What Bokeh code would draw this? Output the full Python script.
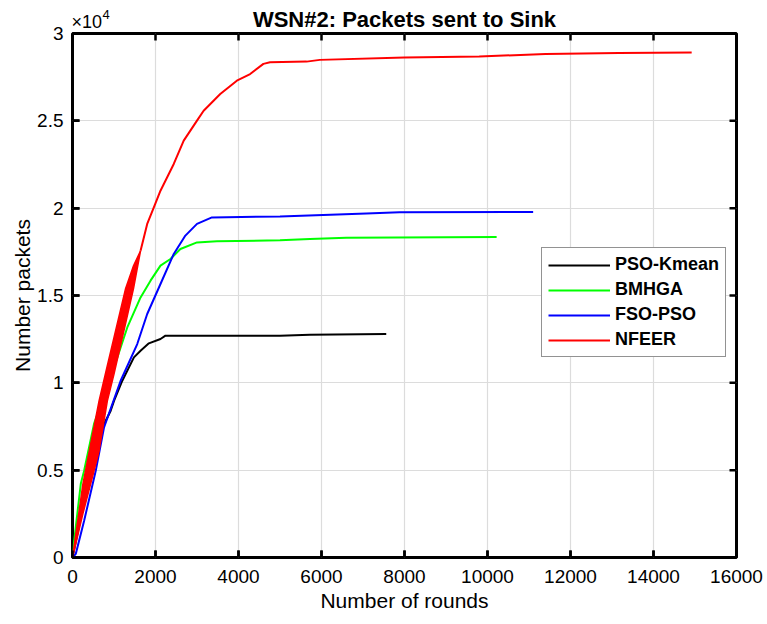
from bokeh.plotting import figure
from bokeh.models import (Range1d, FixedTicker, Legend, LegendItem,
                          Label, CustomJSTickFormatter)
from bokeh.embed import file_html
from bokeh.resources import INLINE

# ---- data ----
title_text = "WSN#2: Packets sent to Sink"
x_label = "Number of rounds"
y_label = "Number packets"
exponent_base = "\u00d710"
exponent_power = "4"
x_ticks = [0, 2000, 4000, 6000, 8000, 10000, 12000, 14000, 16000]
y_ticks = [0, 5000, 10000, 15000, 20000, 25000, 30000]

names = ["PSO-Kmean", "BMHGA", "FSO-PSO", "NFEER"]
colors = ["#000000", "#00ff00", "#0000ff", "#ff0000"]

kmean_rounds = [0, 200, 440, 680, 920, 1000, 1200, 1480, 1640, 1840, 2120, 2240, 5000, 5720, 7560]
kmean_packets = [0, 2290, 4970, 7260, 8400, 8970, 10120, 11455, 11840, 12260, 12510, 12700, 12700, 12755, 12790]

bmhga_rounds = [0, 40, 200, 280, 520, 1000, 1320, 1640, 1880, 2120, 2360, 2600, 3000, 3480, 5000, 5720, 6600, 10220]
bmhga_packets = [0, 956, 4220, 4970, 7660, 10880, 13170, 14890, 15850, 16710, 17090, 17660, 18040, 18100, 18160, 18240, 18310, 18350]

fsopso_rounds = [0, 80, 280, 560, 760, 1160, 1560, 1800, 2120, 2440, 2720, 3000, 3360, 5000, 7080, 7880, 11100]
fsopso_packets = [0, 210, 2100, 4970, 7450, 10120, 12220, 13940, 15660, 17380, 18430, 19100, 19470, 19530, 19700, 19760, 19780]

# NFEER: noisy band at the start (upper / lower envelope), then a single curve
nfeer_band_rounds = [0, 250, 520, 640, 840, 1000, 1280, 1470, 1640]
nfeer_band_upper = [0, 4200, 7500, 8970, 10990, 12600, 15400, 16700, 17560]
nfeer_band_lower = [0, 2500, 4970, 6100, 8970, 10500, 13400, 15400, 17560]

nfeer_rounds = [1640, 1800, 1960, 2120, 2440, 2680, 3000, 3160, 3560, 3960, 4280, 4600, 4760,
                5640, 5960, 8000, 9800, 11400, 13160, 14920]
nfeer_packets = [17560, 19100, 20050, 21000, 22530, 23870, 25010, 25580, 26540, 27300, 27680, 28260, 28350,
                 28390, 28490, 28620, 28680, 28830, 28890, 28910]

FONT = "Liberation Sans"
X0, X1, Y0, Y1 = 0, 16000, 0, 30000
W, H = 767, 624
BL, BR, BT, BB = 72, 30, 33, 67
FRAME_W, FRAME_H = W - BL - BR, H - BT - BB
TICK_PX = 7

p = figure(width=W, height=H, output_backend="svg", toolbar_location=None,
           x_range=Range1d(X0, X1), y_range=Range1d(Y0, Y1),
           min_border_left=BL, min_border_right=BR, min_border_top=BT, min_border_bottom=BB,
           background_fill_color="white", border_fill_color="white")
p.outline_line_color = "#000000"
p.outline_line_width = 3

p.title.text = title_text
p.title.align = "center"
p.title.text_font = FONT
p.title.text_font_size = "22px"
p.title.text_font_style = "bold"
p.title.text_color = "#000000"
p.title.standoff = 4

xt = FixedTicker(ticks=x_ticks)
yt = FixedTicker(ticks=y_ticks)
yfmt = CustomJSTickFormatter(code="return (tick/10000).toString();")

for ax in p.xaxis:
    ax.ticker = xt
    ax.axis_label = x_label
    ax.major_label_standoff = 12
    ax.axis_label_standoff = 3
for ax in p.yaxis:
    ax.ticker = yt
    ax.formatter = yfmt
    ax.axis_label = y_label
    ax.major_label_standoff = 9
    ax.axis_label_standoff = 0

for ax in list(p.xaxis) + list(p.yaxis):
    ax.axis_line_color = None
    ax.major_tick_in = TICK_PX
    ax.major_tick_out = 0
    ax.major_tick_line_width = 2.5
    ax.major_tick_line_color = "#000000"
    ax.minor_tick_line_color = None
    ax.major_label_text_font = FONT
    ax.major_label_text_font_size = "19px"
    ax.major_label_text_color = "#000000"
    ax.axis_label_text_font = FONT
    ax.axis_label_text_font_size = "21px"
    ax.axis_label_text_font_style = "normal"
    ax.axis_label_text_color = "#000000"

p.xgrid.ticker = xt
p.ygrid.ticker = yt
for g in (p.xgrid, p.ygrid):
    g.grid_line_color = "#dcdcdc"
    g.grid_line_width = 1.2

# inward tick marks on all four sides (length converted from pixels to data units)
dy = (Y1 - Y0) * TICK_PX / FRAME_H
dx = (X1 - X0) * TICK_PX / FRAME_W
tick_style = dict(line_color="#000000", line_width=2.5)
p.segment(x0=x_ticks, y0=[Y0] * len(x_ticks), x1=x_ticks, y1=[Y0 + dy] * len(x_ticks), **tick_style)
p.segment(x0=x_ticks, y0=[Y1] * len(x_ticks), x1=x_ticks, y1=[Y1 - dy] * len(x_ticks), **tick_style)
p.segment(x0=[X0] * len(y_ticks), y0=y_ticks, x1=[X0 + dx] * len(y_ticks), y1=y_ticks, **tick_style)
p.segment(x0=[X1] * len(y_ticks), y0=y_ticks, x1=[X1 - dx] * len(y_ticks), y1=y_ticks, **tick_style)

LW = 2
r_k = p.line(kmean_rounds, kmean_packets, line_color=colors[0], line_width=LW)
r_b = p.line(bmhga_rounds, bmhga_packets, line_color=colors[1], line_width=LW)
r_f = p.line(fsopso_rounds, fsopso_packets, line_color=colors[2], line_width=LW)
p.varea(x=nfeer_band_rounds, y1=nfeer_band_lower, y2=nfeer_band_upper, fill_color=colors[3])
p.line(nfeer_band_rounds, nfeer_band_upper, line_color=colors[3], line_width=1.5)
p.line(nfeer_band_rounds, nfeer_band_lower, line_color=colors[3], line_width=1.5)
r_n = p.line(nfeer_rounds, nfeer_packets, line_color=colors[3], line_width=LW)

legend = Legend(items=[LegendItem(label=n, renderers=[r]) for n, r in zip(names, [r_k, r_b, r_f, r_n])],
                location=(469, 200), orientation="vertical",
                label_text_font=FONT, label_text_font_size="18px", label_text_font_style="bold",
                label_text_color="#000000", label_standoff=5, label_height=20,
                glyph_width=62, glyph_height=20, spacing=4, padding=6, margin=0,
                border_line_color="#262626", border_line_width=1.5,
                background_fill_color="white", background_fill_alpha=1.0)
p.add_layout(legend, "center")

# exponent marker "x10^4": side-panel labels (not clipped), drawn above the y axis.
# "x10" sits in the right panel, the superscript in the left panel, so both fit the borders.
p.add_layout(Label(x=-FRAME_W + 0, y=FRAME_H + 2, x_units="screen", y_units="screen",
                   text=exponent_base, text_align="left", text_baseline="bottom",
                   text_font=FONT, text_font_size="18px", text_color="#000000"), "right")
p.add_layout(Label(x=101, y=FRAME_H + 15, x_units="screen", y_units="screen",
                   text=exponent_power, text_align="left", text_baseline="bottom",
                   text_font=FONT, text_font_size="13px", text_color="#000000"), "left")

open("out.html", "w").write(file_html(p, INLINE))
